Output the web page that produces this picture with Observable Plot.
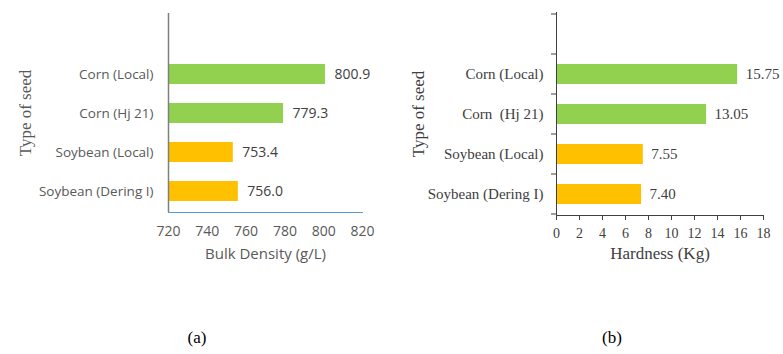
<!DOCTYPE html>
<html><head><meta charset="utf-8">
<script src="https://cdn.jsdelivr.net/npm/d3@7"></script>
<script src="https://cdn.jsdelivr.net/npm/@observablehq/plot@0.6"></script>
<style>
body{margin:0;background:#fff;}
#wrap{position:relative;width:783px;height:354px;overflow:hidden;background:#fff;}
.panel{position:absolute;top:0;}
.cap{position:absolute;font-family:"Liberation Serif","Times New Roman",serif;font-size:17px;color:#000;transform:translate(-50%,-50%);}
svg text{white-space:pre;}
</style></head><body>
<div id="wrap">
<div id="a" class="panel" style="left:0"></div>
<div id="b" class="panel" style="left:390px"></div>
</div>
<script>
const categoriesA = ["Corn (Local)", "Corn (Hj 21)", "Soybean (Local)", "Soybean (Dering I)"];
const categoriesB = ["Corn (Local)", "Corn  (Hj 21)", "Soybean (Local)", "Soybean (Dering I)"];
const crops = ["Corn", "Corn", "Soybean", "Soybean"];
const bulkDensity = [800.9, 779.3, 753.4, 756.0];
const hardness = [15.75, 13.05, 7.55, 7.40];
const bulkTicks = [720, 740, 760, 780, 800, 820];
const hardTicks = [0, 2, 4, 6, 8, 10, 12, 14, 16, 18];
const yTitle = "Type of seed";
const xTitleA = "Bulk Density (g/L)";
const xTitleB = "Hardness (Kg)";
const captions = ["(a)", "(b)"];

const serif = "'Liberation Serif','Times New Roman',serif";
const sans = "'Open Sans','Noto Sans',sans-serif";
const cropColors = {domain: ["Corn", "Soybean"], range: ["#92D050", "#FFC000"]};

const rowsA = categoriesA.map((c, i) => ({cat: c, crop: crops[i], value: bulkDensity[i]}));
const rowsB = categoriesB.map((c, i) => ({cat: c, crop: crops[i], value: hardness[i]}));

const plotA = Plot.plot({
  width: 390, height: 280, marginLeft: 168, marginRight: 28, marginTop: 13, marginBottom: 68,
  style: {fontFamily: sans, fontSize: "13.5px", color: "#595959", background: "transparent"},
  x: {domain: [bulkTicks[0], bulkTicks[bulkTicks.length - 1]]},
  y: {domain: [" ", ...categoriesA], paddingInner: 0.5, paddingOuter: 0.25},
  color: cropColors,
  marks: [
    Plot.barX(rowsA, {x1: () => bulkTicks[0], x2: "value", y: "cat", fill: "crop"}),
    Plot.ruleX([bulkTicks[0]], {stroke: "#7f7f7f", strokeWidth: 1.5}),
    Plot.frame({anchor: "bottom", stroke: "#5B9BD5"}),
    Plot.axisX({ticks: bulkTicks, tickSize: 0, tickPadding: 14, label: null, fontSize: 14}),
    Plot.axisY({ticks: categoriesA, tickSize: 0, tickPadding: 15, label: null}),
    Plot.text(rowsA, {x: "value", y: "cat", text: d => d.value.toFixed(1), dx: 9, textAnchor: "start", fontSize: 14, fill: "#404040"}),
    Plot.text([xTitleA], {frameAnchor: "bottom", dy: 46, fontSize: 15}),
    Plot.text([yTitle], {frameAnchor: "left", textAnchor: "middle", rotate: -90, dx: -143, fontFamily: serif, fontSize: 17})
  ]
});
document.getElementById("a").append(plotA);

const plotB = Plot.plot({
  width: 393, height: 280, marginLeft: 166, marginRight: 20, marginTop: 12, marginBottom: 65,
  style: {fontFamily: serif, fontSize: "15px", color: "#404040", background: "transparent"},
  x: {domain: [hardTicks[0], hardTicks[hardTicks.length - 1]]},
  y: {domain: [" ", ...categoriesB], paddingInner: 0.5, paddingOuter: 0.25},
  color: cropColors,
  marks: [
    Plot.barX(rowsB, {x: "value", y: "cat", fill: "crop"}),
    Plot.frame({anchor: "left", stroke: "#404040"}),
    Plot.frame({anchor: "bottom", stroke: "#404040"}),
    Plot.axisX({ticks: hardTicks, tickSize: 5, tickPadding: 8, label: null, fontSize: 14}),
    Plot.axisY({ticks: categoriesB, tickSize: 0, tickPadding: 13, label: null}),
    Plot.text(rowsB, {x: "value", y: "cat", text: d => d.value.toFixed(2), dx: 8, textAnchor: "start", fontSize: 15}),
    Plot.text([xTitleB], {frameAnchor: "bottom", dy: 43, fontSize: 17}),
    Plot.text([yTitle], {frameAnchor: "left", textAnchor: "middle", rotate: -90, dx: -138, fontSize: 17})
  ]
});
// Excel-style y ticks on band boundaries
{
  const ys = plotB.scale("y");
  const off = (ys.step - ys.bandwidth) / 2;
  const bounds = ys.domain.map(d => ys.apply(d) - off);
  bounds.push(bounds[bounds.length - 1] + ys.step);
  d3.select(plotB).append("g").attr("stroke", "#404040")
    .selectAll("line").data(bounds).join("line")
    .attr("x1", 166 - 5).attr("x2", 166).attr("y1", d => d).attr("y2", d => d);
}
document.getElementById("b").append(plotB);

const wrap = document.getElementById("wrap");
[[captions[0], 197], [captions[1], 612]].forEach(([t, x]) => {
  const s = document.createElement("span");
  s.className = "cap"; s.textContent = t;
  s.style.left = x + "px"; s.style.top = "338px";
  wrap.append(s);
});
</script>
</body></html>
